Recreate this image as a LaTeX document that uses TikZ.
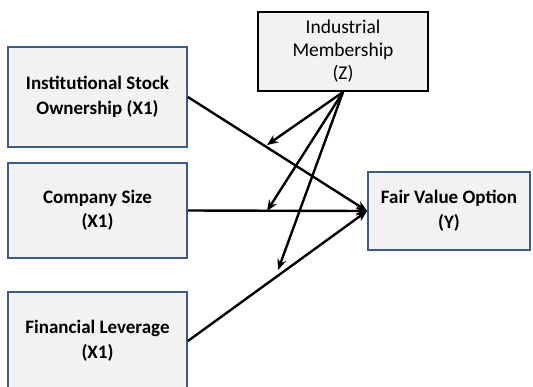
\documentclass[tikz,border=0pt]{standalone}
\usepackage{fontspec}
\setmainfont{Carlito}
\usetikzlibrary{arrows.meta}
\definecolor{boxedge}{RGB}{62,92,138}
\definecolor{boxfill}{RGB}{242,242,242}
\begin{document}
\begin{tikzpicture}[x=1pt,y=-1pt,
  varbox/.style={draw=boxedge, line width=1.8pt, fill=boxfill,
    align=center, inner sep=0pt, font=\fontsize{19}{24.5}\selectfont\bfseries},
  modbox/.style={varbox, draw=black, line width=2.2pt, font=\fontsize{19.5}{23}\selectfont},
  link/.style={line width=2.4pt, -{Stealth[length=11pt,width=9pt]}}]
\clip (0,0) rectangle (533,386);
\fill[white] (0,0) rectangle (533,386);
% predictors
\node[varbox, minimum width=179pt, minimum height=100pt] (iso) at (97.5,97) {Institutional Stock\\Ownership (X1)};
\node[varbox, minimum width=179pt, minimum height=95pt] (cs) at (97.5,210.5) {Company Size\\(X1)};
\node[varbox, minimum width=179pt, minimum height=98pt] (fl) at (97.5,341) {Financial Leverage\\(X1)};
% moderator and outcome
\node[modbox, minimum width=170pt, minimum height=79pt] (z) at (343,51.5) {Industrial\\Membership\\(Z)};
\node[varbox, minimum width=162pt, minimum height=78pt] (y) at (449,211) {Fair Value Option\\(Y)};
% moderator arrow ends
\coordinate (m1) at (267,145);
\coordinate (m2) at (267,211);
\coordinate (m3) at (278,270);
% direct effects
\draw[link] (iso.east) -- (y.west);
\draw[link] (cs.east) -- (y.west);
\draw[link] (fl.east) -- (y.west);
% moderating effects
\draw[link] (z.south) -- (m1);
\draw[link] (z.south) -- (m2);
\draw[link] (z.south) -- (m3);
\end{tikzpicture}
\end{document}
